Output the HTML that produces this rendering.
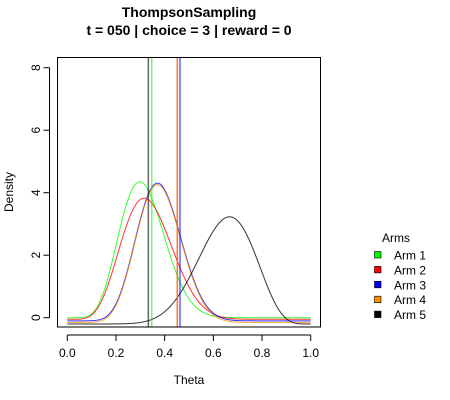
<!DOCTYPE html>
<html><head><meta charset="utf-8"><style>
html,body{margin:0;padding:0;background:#fff}
svg{display:block;font-family:"Liberation Sans",Arial,sans-serif}
</style></head><body>
<svg id="chart" width="450" height="400" viewBox="0 0 450 400">
<text x="189" y="17" text-anchor="middle" font-size="14" font-weight="bold">ThompsonSampling</text>
<text x="189" y="35" text-anchor="middle" font-size="14" font-weight="bold">t = 050 | choice = 3 | reward = 0</text>
<g id="plot"></g>
<rect x="57.5" y="57.5" width="263" height="269.5" fill="none" stroke="#000" stroke-width="1"/>
<text x="189" y="384" text-anchor="middle" font-size="12">Theta</text>
<text transform="translate(13,192) rotate(-90)" text-anchor="middle" font-size="12">Density</text>
<g>
<text x="396" y="242" text-anchor="middle" font-size="12">Arms</text>
<g id="legend-items"></g>
</g>
</svg>
<script>
const armNames = ["Arm 1","Arm 2","Arm 3","Arm 4","Arm 5"];
const armColors = ["#00ff00","#ff0000","#0000ff","#ff8c00","#000000"];
const alphas = [8, 7, 11, 11, 11];
const betas = [17.5, 14, 18, 18, 6];
const offsets = [0, -0.05, -0.1, -0.15, -0.2];
const samples = [0.347, 0.452, 0.463, 0.452, 0.333];
const xTicks = [0, 0.2, 0.4, 0.6, 0.8, 1.0];
const xTickLabels = ["0.0","0.2","0.4","0.6","0.8","1.0"];
const yTicks = [0, 2, 4, 6, 8];
const yTickLabels = ["0","2","4","6","8"];

const NS = "http://www.w3.org/2000/svg";
const xs = v => 67.3 + v * 243.4;
const ys = v => 317.7 - v * 31.25;
const plot = document.getElementById("plot");
function mk(tag, attrs, parent){const e=document.createElementNS(NS,tag);for(const k in attrs)e.setAttribute(k,attrs[k]);(parent||plot).appendChild(e);return e;}
function lgamma(z){const g=7,c=[0.99999999999980993,676.5203681218851,-1259.1392167224028,771.32342877765313,-176.61502916214059,12.507343278686905,-0.13857109526572012,9.9843695780195716e-6,1.5056327351493116e-7];if(z<0.5)return Math.log(Math.PI/Math.sin(Math.PI*z))-lgamma(1-z);z-=1;let a=c[0];const t=z+g+0.5;for(let i=1;i<9;i++)a+=c[i]/(z+i);return 0.5*Math.log(2*Math.PI)+(z+0.5)*Math.log(t)-t+Math.log(a);}
function dbeta(x,a,b){if(x<=0||x>=1)return 0;return Math.exp((a-1)*Math.log(x)+(b-1)*Math.log(1-x)+lgamma(a+b)-lgamma(a)-lgamma(b));}

const svg=document.getElementById("chart");
const xAxis=mk("g",{},svg);


mk("line",{x1:xs(xTicks[0]),x2:xs(xTicks[xTicks.length-1]),y1:335,y2:335,stroke:"#000"},xAxis);
xTicks.forEach((t,i)=>{
  mk("line",{x1:xs(t),x2:xs(t),y1:335,y2:341,stroke:"#000"},xAxis);
  const tx=mk("text",{x:xs(t),y:357,"text-anchor":"middle","font-size":"12"},xAxis);
  
  
  tx.textContent=xTickLabels[i];
});
const yAxis=mk("g",{},svg);


mk("line",{x1:49.5,x2:49.5,y1:ys(yTicks[0]),y2:ys(yTicks[yTicks.length-1]),stroke:"#000"},yAxis);
yTicks.forEach((t,i)=>{
  mk("line",{x1:43.5,x2:49.5,y1:ys(t),y2:ys(t),stroke:"#000"},yAxis);
  const tx=mk("text",{transform:`translate(40,${ys(t)}) rotate(-90)`,"text-anchor":"middle","font-size":"12"},yAxis);
  
  
  tx.textContent=yTickLabels[i];
});

armNames.forEach((n,i)=>{
  let d="";
  for(let k=0;k<=300;k++){const x=k/300;const y=dbeta(x,alphas[i],betas[i])+offsets[i];d+=(k?"L":"M")+xs(x).toFixed(2)+","+ys(y).toFixed(2);}
  const p=mk("path",{d:d,fill:"none",stroke:armColors[i],"stroke-width":"1","stroke-opacity":"0.8"});
  
  
});
armNames.forEach((n,i)=>{
  const l=mk("line",{x1:xs(samples[i]),x2:xs(samples[i]),y1:57.5,y2:327,stroke:armColors[i],"stroke-width":"1.5","stroke-opacity":"0.6"});
  
  
});
const lg=document.getElementById("legend-items");
armNames.forEach((n,i)=>{
  const y=255+i*14.9;
  const r=mk("rect",{x:374.5,y:y-3.5,width:6.5,height:6.5,fill:armColors[i],stroke:"#000","stroke-width":"0.6"},lg);
  
  
  const t=mk("text",{x:394,y:y+4.5,"font-size":"12"},lg);
  
  
  t.textContent=n;
});
</script>
</body></html>
